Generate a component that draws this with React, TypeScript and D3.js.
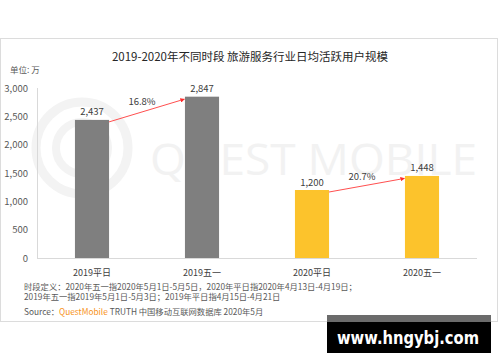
import React from "react";
import * as d3 from "d3";

const categories = ["2019平日", "2019五一", "2020平日", "2020五一"];
const values = [2437, 2847, 1200, 1448];
const barColors = ["#7f7f7f", "#7f7f7f", "#fcc32c", "#fcc32c"];
const yTicks = [0, 500, 1000, 1500, 2000, 2500, 3000];
const growthPairs = [
  { from: 0, to: 1, label: "16.8%" },
  { from: 2, to: 3, label: "20.7%" },
];
const title = "2019-2020年不同时段 旅游服务行业日均活跃用户规模";
const unitLabel = "单位: 万";
const noteLines = [
  "时段定义：2020年五一指2020年5月1日-5月5日，2020年平日指2020年4月13日-4月19日；",
  "2019年五一指2019年5月1日-5月3日；2019年平日指4月15日-4月21日",
];

const FONT = "'Noto Sans CJK SC', 'Noto Sans', sans-serif";

export default function App() {
  const W = 500;
  const H = 362;
  const left = 37;
  const right = 477;
  const top = 88;
  const bottom = 258;

  const x = d3.scaleBand<string>().domain(categories).range([left, right]).paddingInner(0.69).paddingOuter(0.345);
  const y = d3.scaleLinear().domain([0, 3000]).range([bottom, top]);
  const fmt = d3.format(",");

  return (
    <div style={{ position: "absolute", left: 0, top: 0, width: W, height: H, background: "#fff" }}>
      <svg width={W} height={H} style={{ display: "block", fontFamily: FONT }}>
        <defs>
          <marker id="arr" viewBox="0 0 10 10" refX="9" refY="5" markerWidth="5" markerHeight="5" orient="auto">
            <path d="M0,0 L10,5 L0,10 z" fill="#ff2a2a" />
          </marker>
        </defs>
        <rect x={0} y={0} width={W} height={H} fill="#fff" />
        <rect x={0.5} y={38.5} width={497} height={283} fill="#fff" stroke="#dcdcdc" />

        {/* watermark */}
        <g>
          <circle cx={82} cy={148} r={46} fill="none" stroke="#f3f3f3" strokeWidth={9} />
          <circle cx={82} cy={148} r={26} fill="none" stroke="#f3f3f3" strokeWidth={8} />
          <text x={150} y={175} fontSize={44} fill="#f2f2f2" fontFamily="'Open Sans', sans-serif" textLength={327} lengthAdjust="spacingAndGlyphs">
            QUEST MOBILE
          </text>
        </g>

        <text x={250} y={61} textAnchor="middle" fontSize={11.5} fill="#262626">{title}</text>
        <text x={10} y={73} fontSize={8.5} fill="#595959">{unitLabel}</text>

        {/* axes */}
        <line x1={left + 0.5} x2={left + 0.5} y1={top} y2={bottom} stroke="#d9d9d9" />
        <line x1={left} x2={right} y1={bottom + 0.5} y2={bottom + 0.5} stroke="#d9d9d9" />
        {yTicks.map((t) => (
          <text key={t} x={28} y={y(t) + 3.5} textAnchor="end" fontSize={9.5} fill="#595959">
            {fmt(t)}
          </text>
        ))}

        {categories.map((c, i) => (
          <g key={c}>
            <rect x={x(c)} y={y(values[i])} width={x.bandwidth()} height={bottom - y(values[i])} fill={barColors[i]} />
            <text x={(x(c) as number) + x.bandwidth() / 2} y={y(values[i]) - 4.5} textAnchor="middle" fontSize={9.5} fill="#404040">
              {fmt(values[i])}
            </text>
            <text x={(x(c) as number) + x.bandwidth() / 2} y={276} textAnchor="middle" fontSize={9} fill="#404040">
              {c}
            </text>
          </g>
        ))}

        {growthPairs.map((g) => {
          const x1 = (x(categories[g.from]) as number) + x.bandwidth();
          const y1 = y(values[g.from]) + 2;
          const x2 = x(categories[g.to]) as number;
          const y2 = y(values[g.to]) + 2.5;
          const mx = (x1 + x2) / 2;
          const my = (y1 + y2) / 2;
          return (
            <g key={g.label}>
              <line x1={x1} y1={y1} x2={x2 - 0.5} y2={y2} stroke="#ff3b3b" strokeWidth={0.9} markerEnd="url(#arr)" />
              <text x={mx - 5} y={my - 5.5} textAnchor="middle" fontSize={9.5} fill="#404040">{g.label}</text>
            </g>
          );
        })}

        {noteLines.map((l, i) => (
          <text key={i} x={24} y={290 + i * 9.5} fontSize={8.3} fill="#595959">{l}</text>
        ))}
        <text x={24} y={315} fontSize={8.3} fill="#595959">
          Source：<tspan fill="#f7941d">QuestMobile</tspan> TRUTH 中国移动互联网数据库 2020年5月
        </text>

        {/* site badge */}
        <rect x={327} y={315} width={164} height={38} fill="#000" />
        <rect x={327} y={315} width={164} height={7} fill="#6b6b6b" />
        <text x={408} y={344} textAnchor="middle" fontSize={17} fontWeight="bold" fill="#fff" fontFamily="'DejaVu Sans', sans-serif" textLength={142} lengthAdjust="spacingAndGlyphs">
          www.hngybj.com
        </text>
      </svg>
    </div>
  );
}
